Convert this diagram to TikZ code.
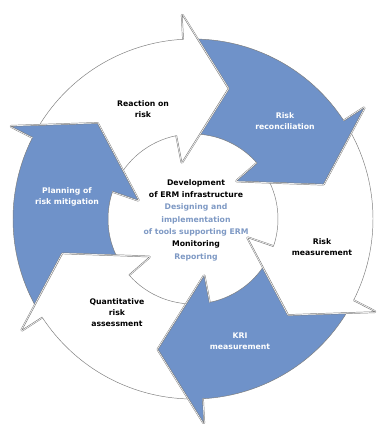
\documentclass[tikz,border=0pt]{standalone}
\usepackage{fontspec}
\setmainfont{DejaVu Sans}
\definecolor{riskblue}{RGB}{111,146,201}
\definecolor{softblue}{RGB}{126,153,196}
\definecolor{edgegray}{RGB}{125,125,125}
\def\rin{85}
\def\rout{180}
\def\rtip{135}
\def\rbi{58}
\def\rbo{204}

\begin{document}
\begin{tikzpicture}[
    scale=0.03,
    arrow/.style={draw=edgegray, line width=0.4pt, line join=miter},
    head/.style={preaction={draw=edgegray, line width=2.4pt, line join=round},
                 preaction={draw=white, line width=1.6pt, line join=round}},
    label/.style={font=\fontsize{6.6}{9.4}\selectfont\bfseries, align=center},
    blue label/.style={label, text=white},
    hub/.style={font=\fontsize{6.6}{10.5}\selectfont\bfseries, align=center}
]
    \useasboundingbox (-193,-205) rectangle (189,219);

    % Draw the ring of arrows, tail notch first, head last
    \foreach \t/\col in {75/white,15/riskblue,-45/white,-105/riskblue,-165/white,135/riskblue}
        \path[arrow, fill=\col] (\t+76:\rout)
            arc[start angle=\t+76, end angle=\t+18, radius=\rout]
            -- (\t+18:\rbo) -- (\t:\rtip) -- (\t+26:\rbi) -- (\t+26:\rin)
            arc[start angle=\t+26, end angle=\t+82, radius=\rin]
            -- (\t+66:\rtip) -- cycle;

    % Draw the heads again so that each one lies over the next tail
    \foreach \t/\col in {75/white,15/riskblue,-45/white,-105/riskblue,-165/white,135/riskblue}
        \path[arrow, head, fill=\col] (\t+18:\rout) -- (\t+18:\rbo) -- (\t:\rtip)
            -- (\t+26:\rbi) -- (\t+26:\rin);

    % Label the steps
    \node[label] (reaction) at (-50,110) {Reaction on\\risk};
    \node[blue label] (reconciliation) at (92,98) {Risk\\reconciliation};
    \node[label] (measurement) at (129,-28) {Risk\\measurement};
    \node[blue label] (kri) at (47,-122) {KRI\\measurement};
    \node[label] (quantitative) at (-76,-94) {Quantitative\\risk\\assessment};
    \node[blue label] (planning) at (-126,22) {Planning of\\risk mitigation};

    % Text in the middle
    \node[hub] (erm) at (3,-1) {Development\\of ERM infrastructure\\
        \textcolor{softblue}{Designing and}\\\textcolor{softblue}{implementation}\\
        \textcolor{softblue}{of tools supporting ERM}\\Monitoring\\
        \textcolor{softblue}{Reporting}};
\end{tikzpicture}
\end{document}
